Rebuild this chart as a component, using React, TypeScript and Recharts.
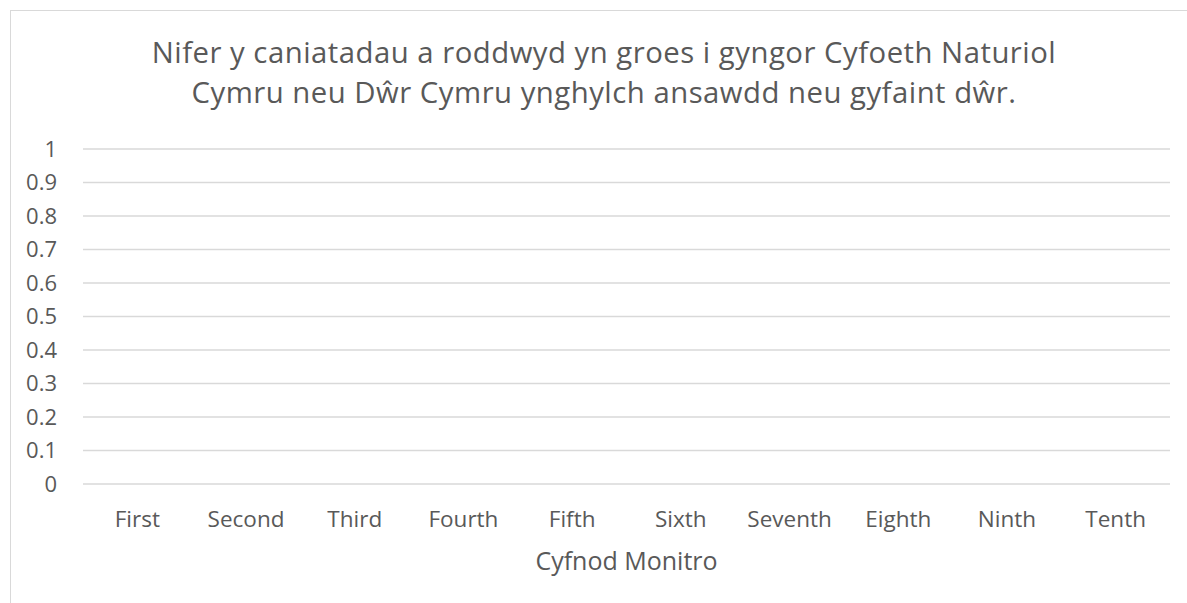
import { BarChart, Bar, XAxis, YAxis, CartesianGrid } from "recharts";

const periods = ["First", "Second", "Third", "Fourth", "Fifth", "Sixth", "Seventh", "Eighth", "Ninth", "Tenth"];
// no permits recorded in any monitoring period
const permitCounts = [0, 0, 0, 0, 0, 0, 0, 0, 0, 0];
const yTicks = [0, 0.1, 0.2, 0.3, 0.4, 0.5, 0.6, 0.7, 0.8, 0.9, 1];

const titleLines = [
  "Nifer y caniatadau a roddwyd yn groes i gyngor Cyfoeth Naturiol",
  "Cymru neu Dŵr Cymru ynghylch ansawdd neu gyfaint dŵr.",
];
const xTitle = "Cyfnod Monitro";

const FONT = "'Open Sans', 'Noto Sans', sans-serif";
const TEXT = "#595959";

export default function App() {
  const data = periods.map((p, i) => ({ period: p, count: permitCounts[i] }));

  return (
    <div style={{ position: "fixed", left: 0, top: 0, width: 1187, height: 603, overflow: "hidden", background: "#fff", fontFamily: FONT }}>
      <div style={{ position: "absolute", left: 10, top: 10, width: 1200, height: 620, border: "1px solid #d9d9d9" }} />
      {titleLines.map((l, i) => (
        <div
          key={l}
          style={{
            position: "absolute",
            left: 10,
            top: 38 + i * 40,
            width: 1188,
            textAlign: "center",
            fontSize: 29.3,
            letterSpacing: 0.5,
            lineHeight: "29.3px",
            color: TEXT,
            whiteSpace: "nowrap",
          }}
        >
          {l}
        </div>
      ))}
      <div style={{ position: "absolute", left: 0, top: 0 }}>
        <BarChart width={1187} height={603} data={data} margin={{ top: 149, right: 17, left: 23, bottom: 19 }}>
          <CartesianGrid vertical={false} stroke="#d9d9d9" strokeWidth={1.5} />
          <XAxis
            dataKey="period"
            height={100}
            axisLine={false}
            tickLine={false}
            tickSize={0}
            tickMargin={27}
            interval={0}
            tick={{ fontSize: 22.5, fill: TEXT, fontFamily: FONT }}
            label={{ value: xTitle, position: "insideBottom", offset: 14, fontSize: 25, fill: TEXT, fontFamily: FONT }}
          />
          <YAxis
            width={60}
            domain={[0, 1]}
            ticks={yTicks}
            axisLine={false}
            tickLine={false}
            tickSize={0}
            tickMargin={26}
            interval={0}
            tick={{ fontSize: 22, fill: TEXT, fontFamily: FONT }}
          />
          <Bar dataKey="count" fill="#4472c4" isAnimationActive={false} />
        </BarChart>
      </div>
    </div>
  );
}
